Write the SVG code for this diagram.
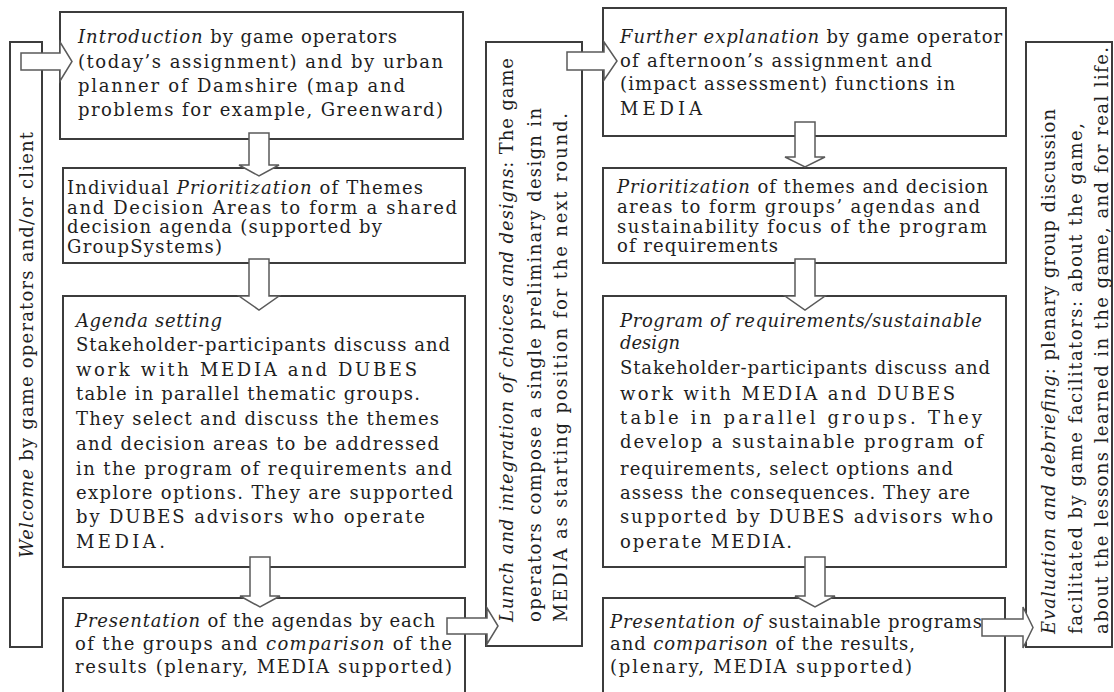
<svg xmlns="http://www.w3.org/2000/svg" width="1114" height="692" viewBox="0 0 1114 692">
<style>
.box{fill:#fff;stroke:#3c3c3c;stroke-width:2}
.arr{fill:#fff;stroke:#5a5a5a;stroke-width:1.5;stroke-linejoin:miter}
text{font-family:"DejaVu Serif","Liberation Serif",serif;font-size:18px;fill:#1e1e1e}
.i{font-style:italic}
</style>
<rect width="1114" height="692" fill="#fff"/>

<g id="welcome">
<rect class="box" x="10" y="42" width="32" height="605"/>
<text transform="translate(33,558) rotate(-90)" textLength="426" lengthAdjust="spacing"><tspan class="i">Welcome</tspan> by game operators and/or client</text>
</g>

<g id="introduction">
<rect class="box" x="60" y="12" width="403" height="127"/>
<text x="78" y="43" textLength="319" lengthAdjust="spacing"><tspan class="i">Introduction</tspan> by game operators</text>
<text x="78" y="68" textLength="365" lengthAdjust="spacing">(today’s assignment) and by urban</text>
<text x="78" y="92" textLength="327" lengthAdjust="spacing">planner of Damshire (map and</text>
<text x="78" y="116" textLength="365" lengthAdjust="spacing">problems for example, Greenward)</text>
</g>

<g id="prioritization1">
<rect class="box" x="63" y="168" width="402" height="95"/>
<text x="67" y="194" textLength="356" lengthAdjust="spacing">Individual <tspan class="i">Prioritization</tspan> of Themes</text>
<text x="67" y="213.5" textLength="390" lengthAdjust="spacing">and Decision Areas to form a shared</text>
<text x="67" y="233" textLength="315" lengthAdjust="spacing">decision agenda (supported by</text>
<text x="67" y="253" textLength="155" lengthAdjust="spacing">GroupSystems)</text>
</g>

<g id="agenda">
<rect class="box" x="63" y="296" width="402" height="271"/>
<text x="76" y="327" textLength="146" lengthAdjust="spacing" class="i">Agenda setting</text>
<text x="76" y="351" textLength="374" lengthAdjust="spacing">Stakeholder-participants discuss and</text>
<text x="76" y="376" textLength="341" lengthAdjust="spacing">work with MEDIA and DUBES</text>
<text x="76" y="400" textLength="344" lengthAdjust="spacing">table in parallel thematic groups.</text>
<text x="76" y="425" textLength="363" lengthAdjust="spacing">They select and discuss the themes</text>
<text x="76" y="450" textLength="363" lengthAdjust="spacing">and decision areas to be addressed</text>
<text x="76" y="475" textLength="376" lengthAdjust="spacing">in the program of requirements and</text>
<text x="76" y="499" textLength="377" lengthAdjust="spacing">explore options. They are supported</text>
<text x="76" y="523" textLength="349" lengthAdjust="spacing">by DUBES advisors who operate</text>
<text x="76" y="548" textLength="89" lengthAdjust="spacing">MEDIA.</text>
</g>

<g id="presentation1">
<rect class="box" x="63" y="598" width="402" height="110"/>
<text x="75" y="627" textLength="360" lengthAdjust="spacing"><tspan class="i">Presentation</tspan> of the agendas by each</text>
<text x="75" y="650" textLength="377" lengthAdjust="spacing">of the groups and <tspan class="i">comparison</tspan> of the</text>
<text x="75" y="673" textLength="377" lengthAdjust="spacing">results (plenary, MEDIA supported)</text>
</g>

<g id="lunch">
<rect class="box" x="486" y="42" width="96" height="604"/>
<text transform="translate(513,622) rotate(-90)" textLength="564" lengthAdjust="spacing"><tspan class="i">Lunch and integration of choices and designs</tspan>: The game</text>
<text transform="translate(541,622) rotate(-90)" textLength="514" lengthAdjust="spacing">operators compose a single preliminary design in</text>
<text transform="translate(567,622) rotate(-90)" textLength="509" lengthAdjust="spacing">MEDIA as starting position for the next round.</text>
</g>

<g id="further">
<rect class="box" x="603" y="8" width="403" height="128"/>
<text x="620" y="43" textLength="382" lengthAdjust="spacing"><tspan class="i">Further explanation</tspan> by game operator</text>
<text x="620" y="67" textLength="312" lengthAdjust="spacing">of afternoon’s assignment and</text>
<text x="620" y="90" textLength="335" lengthAdjust="spacing">(impact assessment) functions in</text>
<text x="620" y="115" textLength="82" lengthAdjust="spacing">MEDIA</text>
</g>

<g id="prioritization2">
<rect class="box" x="603" y="168" width="403" height="95"/>
<text x="617" y="193" textLength="371" lengthAdjust="spacing"><tspan class="i">Prioritization</tspan> of themes and decision</text>
<text x="617" y="213" textLength="363" lengthAdjust="spacing">areas to form groups’ agendas and</text>
<text x="617" y="233" textLength="370" lengthAdjust="spacing">sustainability focus of the program</text>
<text x="617" y="252" textLength="161" lengthAdjust="spacing">of requirements</text>
</g>

<g id="program">
<rect class="box" x="603" y="296" width="403" height="271"/>
<text x="620" y="327" textLength="362" lengthAdjust="spacing" class="i">Program of requirements/sustainable</text>
<text x="620" y="349" textLength="60" lengthAdjust="spacing" class="i">design</text>
<text x="620" y="374" textLength="370" lengthAdjust="spacing">Stakeholder-participants discuss and</text>
<text x="620" y="400" textLength="335" lengthAdjust="spacing">work with MEDIA and DUBES</text>
<text x="620" y="424" textLength="362" lengthAdjust="spacing">table in parallel groups. They</text>
<text x="620" y="448" textLength="363" lengthAdjust="spacing">develop a sustainable program of</text>
<text x="620" y="475" textLength="333" lengthAdjust="spacing">requirements, select options and</text>
<text x="620" y="499" textLength="350" lengthAdjust="spacing">assess the consequences. They are</text>
<text x="620" y="523" textLength="373" lengthAdjust="spacing">supported by DUBES advisors who</text>
<text x="620" y="548" textLength="172" lengthAdjust="spacing">operate MEDIA.</text>
</g>

<g id="presentation2">
<rect class="box" x="603" y="598" width="402" height="110"/>
<text x="610" y="628" textLength="372" lengthAdjust="spacing"><tspan class="i">Presentation of</tspan> sustainable programs</text>
<text x="610" y="650" textLength="305" lengthAdjust="spacing">and <tspan class="i">comparison</tspan> of the results,</text>
<text x="610" y="673" textLength="302" lengthAdjust="spacing">(plenary, MEDIA supported)</text>
</g>

<g id="evaluation">
<rect class="box" x="1026" y="42" width="86" height="605"/>
<text transform="translate(1055,634) rotate(-90)" textLength="525" lengthAdjust="spacing"><tspan class="i">Evaluation and debriefing</tspan>: plenary group discussion</text>
<text transform="translate(1082,634) rotate(-90)" textLength="511" lengthAdjust="spacing">facilitated by game facilitators: about the game,</text>
<text transform="translate(1108,634) rotate(-90)" textLength="587" lengthAdjust="spacing">about the lessons learned in the game, and for real life.</text>
</g>

<g id="connectors">
<polygon class="arr" points="21,53 60,53 60,42 72,61.5 60,81 60,70 21,70"/>
<polygon class="arr" points="249,133 269,133 269,165 279,165 259,176 239,165 249,165"/>
<polygon class="arr" points="249,259 269,259 269,296 279,296 259,310 239,296 249,296"/>
<polygon class="arr" points="250,557 270,557 270,596 280,596 260,607 240,596 250,596"/>
<polygon class="arr" points="447,618 487,618 487,608 498,626 487,644 487,634 447,634"/>
<polygon class="arr" points="567,52 604,52 604,42 617,61 604,80 604,70 567,70"/>
<polygon class="arr" points="795,122 815,122 815,157 825,157 805,167 785,157 795,157"/>
<polygon class="arr" points="795,259 815,259 815,296 825,296 805,310 785,296 795,296"/>
<polygon class="arr" points="805,557 825,557 825,596 835,596 815,607 795,596 805,596"/>
<polygon class="arr" points="982,619 1023,619 1023,607 1033,627.5 1023,648 1023,636 982,636"/>
</g>
</svg>
